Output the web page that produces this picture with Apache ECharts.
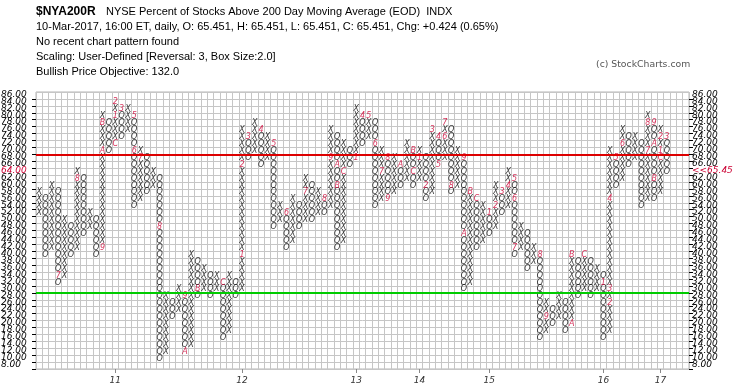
<!DOCTYPE html>
<html><head><meta charset="utf-8">
<script src="https://cdn.jsdelivr.net/npm/echarts@6/dist/echarts.min.js"></script>
<style>html,body{margin:0;padding:0;background:#fff}#c{width:745px;height:391px}</style>
</head><body><div id="c"></div>
<script>
// Point & Figure columns (box size 2, 3-box reversal). Column 0 is an X column, then O/X alternate.
const colLow  = [52,40,42,32,34,40,42,46,48,40, 42,70,72,74,76,54,56,58,60,10, 12,22,24,12,14,28,30,28,30,16, 18,28,30,68,70,66,68,48,50,42, 44,48,50,50,52,52,54,42,44,66, 68,72,74,54,56,56,58,60,62,60, 62,56,58,66,68,58,60,30,32,42, 44,46,48,52,54,40,42,36,38,16, 18,20,22,18,20,28,30,28,30,16, 18,60,62,66,68,54,56,56,58,64];
const colHigh = [58,56,60,58,50,48,64,62,52,50, 80,78,84,82,82,80,70,68,64,62, 28,26,30,28,40,38,36,34,34,32, 34,32,76,74,78,76,74,72,54,52, 56,54,62,60,58,56,76,74,72,70, 82,80,80,78,70,68,68,66,72,70, 70,68,76,74,78,76,70,68,58,56, 54,52,60,58,64,62,48,46,42,40, 26,24,28,26,40,38,40,38,36,34, 70,68,76,74,74,72,80,78,76,74];
// month markers [column, box, text]
const monthMarks = [[3,34,'7'],[6,62,'8'],[10,42,'9'],[10,70,'A'],[10,78,'B'],[12,72,'C'],[12,80,'1'],[12,84,'2'],[13,82,'3'],[15,80,'5'],[15,70,'6'],[16,68,'7'],[19,48,'8'],[23,28,'9'],[23,12,'A'],[25,30,'B'],[29,32,'C'],[32,40,'1'],[32,66,'2'],[33,74,'3'],[35,76,'4'],[37,72,'5'],[39,52,'6'],[42,58,'7'],[45,56,'8'],[46,68,'9'],[47,66,'A'],[47,60,'B'],[48,64,'C'],[50,68,'1'],[51,80,'4'],[52,80,'5'],[53,72,'6'],[54,64,'7'],[55,68,'8'],[55,56,'9'],[57,66,'A'],[59,70,'B'],[59,64,'C'],[60,68,'1'],[61,60,'2'],[62,76,'3'],[63,74,'4'],[63,66,'5'],[64,74,'6'],[64,78,'7'],[65,60,'8'],[67,68,'9'],[67,46,'A'],[68,58,'B'],[69,56,'C'],[71,52,'1'],[72,54,'2'],[73,58,'3'],[74,60,'4'],[75,62,'5'],[75,56,'6'],[75,42,'7'],[79,40,'8'],[80,22,'9'],[84,20,'A'],[84,40,'B'],[86,40,'C'],[89,32,'1'],[90,26,'2'],[90,30,'3'],[90,56,'4'],[91,68,'5'],[92,72,'6'],[96,70,'7'],[96,78,'8'],[97,78,'9'],[97,72,'A'],[97,62,'B'],[98,68,'C'],[98,70,'1'],[98,74,'2'],[99,74,'3']];
const yearCols  = [12,32,50,60,71,89,98];
const yearTexts = ['11','12','13','14','15','16','17'];
const gridCols = 103;
const boxSize = 2;
const yMin = 8, yMax = 88;
const startLevel = 64;
const lastText = '<<65.45';
const upperLine = 70, lowerLine = 30;

const markMap = {};
monthMarks.forEach(m => { markMap[m[0] + '_' + m[1]] = m[2]; });
const pts = [];
for (let i = 0; i < colLow.length; i++) {
  const sym = i % 2 === 0 ? 'X' : 'O';
  for (let v = colLow[i]; v <= colHigh[i]; v += boxSize) {
    const mk = markMap[i + '_' + v];
    pts.push({ value: [i, v + boxSize / 2], t: mk || sym, label: { color: mk ? '#cc0033' : '#000' } });
  }
}
const cats = []; for (let i = 0; i < gridCols; i++) cats.push(String(i));
const yearMap = {}; yearCols.forEach((c, k) => { yearMap[c] = yearTexts[k]; });

const richRed = { r: { color: '#cc0033', fontStyle: 'italic', fontSize: 9, fontFamily: 'DejaVu Sans' } };
function yAxis(pos, main) {
  const isLeft = pos === 'left';
  return {
    type: 'value', min: yMin, max: yMax, interval: boxSize, position: pos,
    axisLine: { show: false },
    axisTick: { show: true, length: 4, lineStyle: { color: '#000' } },
    splitLine: { show: main && isLeft, lineStyle: { color: '#c6c6c6', width: 1 } },
    axisLabel: {
      fontStyle: 'italic', fontSize: 9, fontFamily: 'DejaVu Sans', color: '#000',
      margin: isLeft ? 35 : 3, align: 'left', verticalAlign: 'bottom',
      showMinLabel: !main, showMaxLabel: false, rich: richRed,
      formatter: v => {
        if (!main) return v === yMin ? v.toFixed(2) : '';
        if (v >= yMax || v === yMin) return '';
        if (v === startLevel) return '{r|' + (isLeft ? v.toFixed(2) : lastText) + '}';
        return v.toFixed(2);
      }
    }
  };
}
const chart = echarts.init(document.getElementById('c'));
chart.setOption({
  animation: false,
  grid: { left: 36, right: 56, top: 92, bottom: 22, show: true, borderColor: '#b4b4b4', borderWidth: 1, containLabel: false, outerBoundsMode: 'none' },
  xAxis: {
    type: 'category', data: cats, boundaryGap: true,
    axisLine: { show: false },
    axisTick: { show: true, interval: (i) => yearMap[i] !== undefined, alignWithLabel: true, length: 4, lineStyle: { color: '#888' } },
    axisLabel: { interval: 0, margin: 7, color: '#333', fontStyle: 'italic', fontSize: 9, fontFamily: 'DejaVu Sans', formatter: (v, i) => yearMap[i] || '' },
    splitLine: { show: true, interval: 0, lineStyle: { color: '#c6c6c6', width: 1 } }
  },
  yAxis: [yAxis('left', true), yAxis('right', true), yAxis('left', false), yAxis('right', false)],
  series: [{
    type: 'scatter', data: pts, symbol: 'rect', symbolSize: 1, yAxisIndex: 0,
    itemStyle: { color: 'rgba(0,0,0,0)' },
    label: { show: true, position: 'inside', formatter: p => p.data.t, fontStyle: 'italic', fontSize: 8, fontFamily: 'DejaVu Sans' },
    markLine: {
      silent: true, symbol: 'none', label: { show: false }, animation: false,
      data: [
        { yAxis: upperLine, lineStyle: { color: '#dd0000', width: 2, type: 'solid' } },
        { yAxis: lowerLine, lineStyle: { color: '#00cc00', width: 2, type: 'solid' } }
      ]
    }
  }],
  graphic: [
    { type: 'text', style: { x: 36, y: 12, text: '$NYA200R', font: 'bold 12px "Liberation Sans", Arial', fill: '#000', textVerticalAlign: 'middle', verticalAlign: 'middle' } },
    { type: 'text', style: { x: 106, y: 12, text: 'NYSE Percent of Stocks Above 200 Day Moving Average (EOD)  INDX', font: '11px "Liberation Sans", Arial', fill: '#000', textVerticalAlign: 'middle', verticalAlign: 'middle' } },
    { type: 'text', style: { x: 36, y: 27, text: '10-Mar-2017, 16:00 ET, daily, O: 65.451, H: 65.451, L: 65.451, C: 65.451, Chg: +0.424 (0.65%)', font: '11px "Liberation Sans", Arial', fill: '#000', textVerticalAlign: 'middle', verticalAlign: 'middle' } },
    { type: 'text', style: { x: 36, y: 42, text: 'No recent chart pattern found', font: '11px "Liberation Sans", Arial', fill: '#000', textVerticalAlign: 'middle', verticalAlign: 'middle' } },
    { type: 'text', style: { x: 36, y: 57, text: 'Scaling: User-Defined [Reversal: 3, Box Size:2.0]', font: '11px "Liberation Sans", Arial', fill: '#000', textVerticalAlign: 'middle', verticalAlign: 'middle' } },
    { type: 'text', style: { x: 36, y: 72, text: 'Bullish Price Objective: 132.0', font: '11px "Liberation Sans", Arial', fill: '#000', textVerticalAlign: 'middle', verticalAlign: 'middle' } },
    { type: 'text', style: { x: 596, y: 65, text: '(c) StockCharts.com', font: '9.3px "DejaVu Sans"', fill: '#555', textVerticalAlign: 'middle', verticalAlign: 'middle' } }
  ]
});
</script></body></html>
